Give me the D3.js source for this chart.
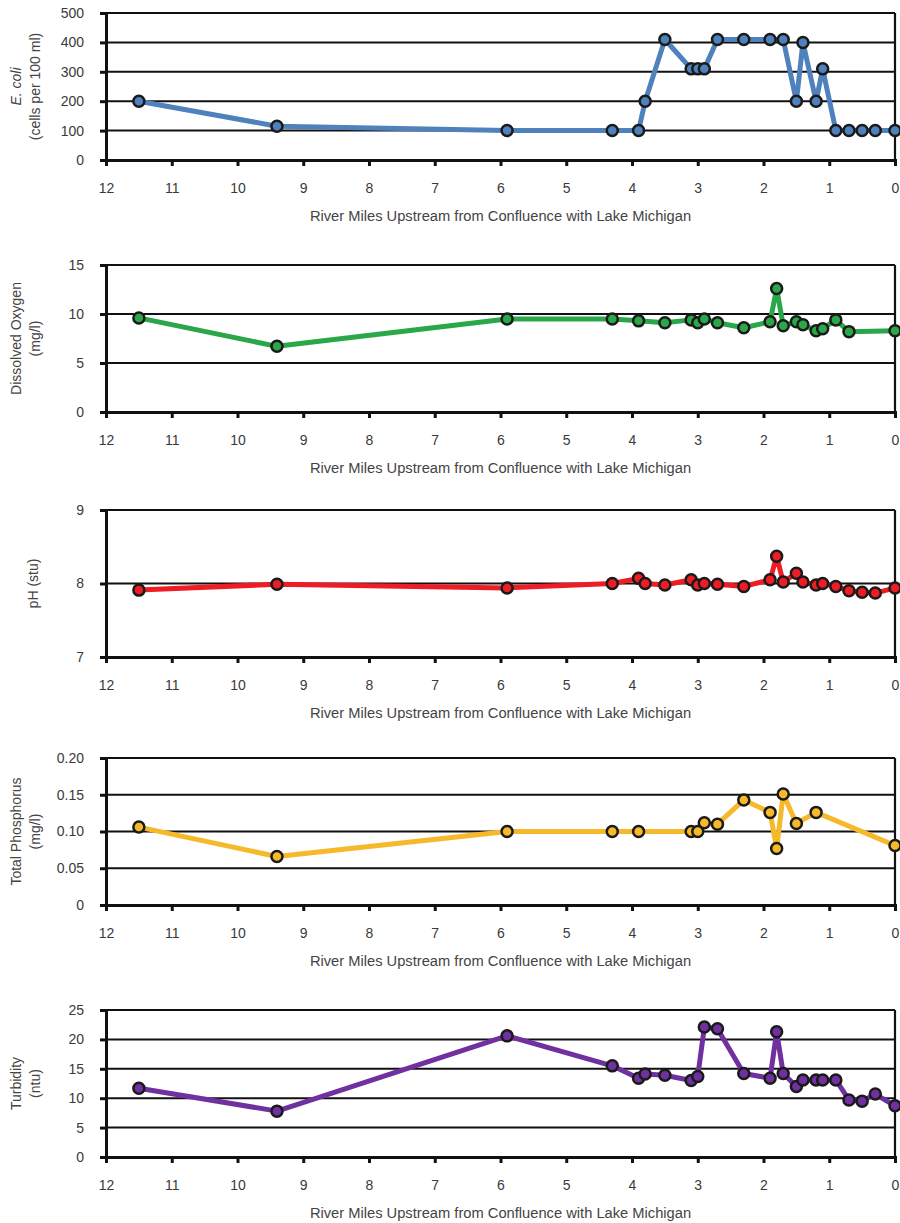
<!DOCTYPE html>
<html>
<head>
<meta charset="utf-8">
<script src="https://cdn.jsdelivr.net/npm/d3@7"></script>
<style>
  body { margin: 0; background: #fff; }
  svg { display: block; font-family: "Liberation Sans", Arial, sans-serif; }
</style>
</head>
<body>
<svg id="chart" width="900" height="1223"></svg>
<script>
// River mile stations and values, one pair per panel.
const xTickValues = [12, 11, 10, 9, 8, 7, 6, 5, 4, 3, 2, 1, 0];
const xTitle = "River Miles Upstream from Confluence with Lake Michigan";

const ecoliMiles = [11.5, 9.4, 5.9, 4.3, 3.9, 3.8, 3.5, 3.1, 3.0, 2.9, 2.7, 2.3, 1.9, 1.7, 1.5, 1.4, 1.2, 1.1, 0.9, 0.7, 0.5, 0.3, 0.0];
const ecoliValues = [200, 115, 100, 100, 100, 200, 410, 310, 310, 310, 410, 410, 410, 410, 200, 400, 200, 310, 100, 100, 100, 100, 100];
const ecoliTicks = [0, 100, 200, 300, 400, 500];

const doMiles = [11.5, 9.4, 5.9, 4.3, 3.9, 3.5, 3.1, 3.0, 2.9, 2.7, 2.3, 1.9, 1.8, 1.7, 1.5, 1.4, 1.2, 1.1, 0.9, 0.7, 0.0];
const doValues = [9.6, 6.7, 9.5, 9.5, 9.3, 9.1, 9.4, 9.1, 9.5, 9.1, 8.6, 9.2, 12.6, 8.8, 9.2, 8.9, 8.3, 8.5, 9.4, 8.2, 8.3];
const doTicks = [0, 5, 10, 15];

const phMiles = [11.5, 9.4, 5.9, 4.3, 3.9, 3.8, 3.5, 3.1, 3.0, 2.9, 2.7, 2.3, 1.9, 1.8, 1.7, 1.5, 1.4, 1.2, 1.1, 0.9, 0.7, 0.5, 0.3, 0.0];
const phValues = [7.91, 7.99, 7.94, 8.00, 8.07, 8.00, 7.98, 8.05, 7.98, 8.00, 7.99, 7.96, 8.05, 8.37, 8.02, 8.14, 8.02, 7.98, 8.00, 7.96, 7.90, 7.88, 7.87, 7.94];
const phTicks = [7, 8, 9];

const tpMiles = [11.5, 9.4, 5.9, 4.3, 3.9, 3.1, 3.0, 2.9, 2.7, 2.3, 1.9, 1.8, 1.7, 1.5, 1.2, 0.0];
const tpValues = [0.106, 0.066, 0.100, 0.100, 0.100, 0.100, 0.100, 0.112, 0.110, 0.143, 0.126, 0.077, 0.151, 0.111, 0.126, 0.081];
const tpTicks = [0, 0.05, 0.10, 0.15, 0.20];
const tpTickLabels = ["0", "0.05", "0.10", "0.15", "0.20"];

const turbMiles = [11.5, 9.4, 5.9, 4.3, 3.9, 3.8, 3.5, 3.1, 3.0, 2.9, 2.7, 2.3, 1.9, 1.8, 1.7, 1.5, 1.4, 1.2, 1.1, 0.9, 0.7, 0.5, 0.3, 0.0];
const turbValues = [11.7, 7.8, 20.6, 15.5, 13.4, 14.1, 13.9, 13.0, 13.7, 22.1, 21.8, 14.2, 13.4, 21.3, 14.2, 12.0, 13.1, 13.1, 13.1, 13.1, 9.7, 9.5, 10.7, 8.7];
const turbTicks = [0, 5, 10, 15, 20, 25];

const panels = [
  {miles: ecoliMiles, values: ecoliValues, ticks: ecoliTicks, labels: null,
   title: [["E. coli", true], ["(cells per 100 ml)", false]], color: "#4f81bd", top: 13},
  {miles: doMiles, values: doValues, ticks: doTicks, labels: null,
   title: [["Dissolved Oxygen", false], ["(mg/l)", false]], color: "#2aa748", top: 265},
  {miles: phMiles, values: phValues, ticks: phTicks, labels: null,
   title: [["pH (stu)", false]], color: "#ee1c24", top: 510},
  {miles: tpMiles, values: tpValues, ticks: tpTicks, labels: tpTickLabels,
   title: [["Total Phosphorus", false], ["(mg/l)", false]], color: "#f6b929", top: 758},
  {miles: turbMiles, values: turbValues, ticks: turbTicks, labels: null,
   title: [["Turbidity", false], ["(ntu)", false]], color: "#7030a0", top: 1010},
];

const left = 106, right = 895, plotH = 147;
const svg = d3.select("#chart");

const xScale = d3.scaleLinear().domain([12, 0]).range([left, right]);

function drawPanel(p) {
  const bottom = p.top + plotH;
  const yScale = d3.scaleLinear()
    .domain(d3.extent(p.ticks))
    .range([bottom, p.top]);
  const g = svg.append("g");

  // Gridlines.
  g.append("g")
    .selectAll("line")
    .data(p.ticks.slice(1))
    .join("line")
    .attr("x1", left).attr("x2", right)
    .attr("y1", d => yScale(d)).attr("y2", d => yScale(d))
    .attr("stroke", "#111")
    .attr("stroke-width", 2);

  // Right border.
  g.append("line")
    .attr("x1", right).attr("x2", right)
    .attr("y1", p.top).attr("y2", bottom)
    .attr("stroke", "#111").attr("stroke-width", 2.2);

  // Y axis.
  const yAxis = d3.axisLeft(yScale)
    .tickValues(p.ticks)
    .tickSize(6)
    .tickPadding(16)
    .tickFormat((d, i) => p.labels ? p.labels[i] : d);
  g.append("g")
    .attr("transform", `translate(${left},0)`)
    .call(yAxis)
    .call(a => a.select(".domain").attr("stroke", "#111").attr("stroke-width", 3))
    .call(a => a.selectAll(".tick line").attr("stroke", "#111").attr("stroke-width", 3))
    .call(a => a.selectAll("text").attr("font-size", 14).attr("fill", "#3a3a3a"));

  // X axis.
  const xAxis = d3.axisBottom(xScale)
    .tickValues(xTickValues)
    .tickSize(6)
    .tickPadding(17)
    .tickFormat(d3.format("d"));
  g.append("g")
    .attr("transform", `translate(0,${bottom})`)
    .call(xAxis)
    .call(a => a.select(".domain").attr("stroke", "#111").attr("stroke-width", 3))
    .call(a => a.selectAll(".tick line").attr("stroke", "#111").attr("stroke-width", 3))
    .call(a => a.selectAll("text").attr("font-size", 14).attr("fill", "#3a3a3a"));

  // X title.
  g.append("text")
    .attr("x", (left + right) / 2)
    .attr("y", bottom + 61)
    .attr("text-anchor", "middle")
    .attr("font-size", 14.7)
    .attr("fill", "#444")
    .text(xTitle);

  // Y title, one rotated text per line.
  const cy = (p.top + bottom) / 2;
  const xs = p.title.length == 2 ? [16, 35] : [33];
  p.title.forEach((t, i) => {
    g.append("text")
      .attr("transform", `translate(${xs[i]},${cy}) rotate(-90)`)
      .attr("text-anchor", "middle")
      .attr("dy", "0.35em")
      .attr("font-size", 14)
      .attr("font-style", t[1] ? "italic" : "normal")
      .attr("fill", "#444")
      .text(t[0]);
  });

  // Series line and markers.
  const data = p.miles.map((m, i) => ({x: m, y: p.values[i]}));
  const line = d3.line().x(d => xScale(d.x)).y(d => yScale(d.y));
  g.append("path")
    .datum(data)
    .attr("fill", "none")
    .attr("stroke", p.color)
    .attr("stroke-width", 5)
    .attr("stroke-linejoin", "round")
    .attr("d", line);
  g.append("g")
    .selectAll("circle")
    .data(data)
    .join("circle")
    .attr("cx", d => xScale(d.x))
    .attr("cy", d => yScale(d.y))
    .attr("r", 5.5)
    .attr("fill", p.color)
    .attr("stroke", "#1a1a1a")
    .attr("stroke-width", 2.5);
}

panels.forEach(drawPanel);
</script>
</body>
</html>
